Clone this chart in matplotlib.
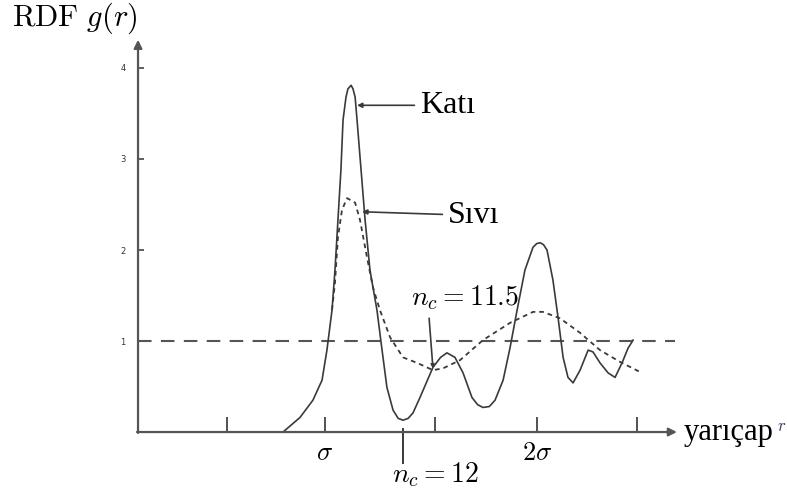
import numpy as np
import matplotlib.pyplot as plt

plt.rcParams['mathtext.fontset'] = 'cm'

# r in units of sigma, g(r) values
kati_r = [0.802, 0.882, 0.943, 0.986, 1.009, 1.033, 1.047, 1.061, 1.075, 1.085, 1.099, 1.108,
          1.123, 1.132, 1.142, 1.151, 1.170, 1.189, 1.212, 1.245, 1.269, 1.292, 1.321, 1.345,
          1.368, 1.392, 1.415, 1.448, 1.509, 1.545, 1.575, 1.613, 1.651, 1.693, 1.720, 1.745,
          1.775, 1.802, 1.840, 1.873, 1.906, 1.943, 1.981, 1.998, 2.014, 2.030, 2.047, 2.075,
          2.099, 2.123, 2.146, 2.170, 2.203, 2.241, 2.264, 2.297, 2.335, 2.368, 2.401, 2.429,
          2.453]
kati_g = [0.00, 0.16, 0.35, 0.57, 0.90, 1.34, 1.78, 2.33, 2.88, 3.43, 3.68, 3.77,
          3.81, 3.77, 3.68, 3.43, 2.88, 2.33, 1.78, 1.34, 0.90, 0.49, 0.24, 0.15,
          0.13, 0.15, 0.21, 0.38, 0.71, 0.82, 0.87, 0.82, 0.65, 0.38, 0.30, 0.27,
          0.28, 0.35, 0.57, 0.93, 1.34, 1.78, 2.03, 2.07, 2.08, 2.06, 2.00, 1.67,
          1.26, 0.82, 0.60, 0.54, 0.68, 0.90, 0.88, 0.76, 0.65, 0.60, 0.76, 0.92,
          1.01]

sivi_r = [1.033, 1.047, 1.061, 1.080, 1.104, 1.142, 1.165, 1.198, 1.226, 1.259, 1.307, 1.368,
          1.434, 1.509, 1.557, 1.637, 1.745, 1.873, 1.981, 2.028, 2.108, 2.203, 2.297, 2.392,
          2.486]
sivi_g = [1.34, 1.64, 2.14, 2.44, 2.57, 2.52, 2.33, 1.92, 1.59, 1.34, 1.04, 0.82,
          0.76, 0.68, 0.70, 0.79, 1.01, 1.20, 1.32, 1.32, 1.25, 1.09, 0.90, 0.77,
          0.66]

xtick_pos = [0.54, 1.0, 1.52, 2.0, 2.47]
xtick_lab = ['', r'$\sigma$', '', r'$2\sigma$', '']
ytick_pos = [1, 2, 3, 4]
ytick_lab = ['1', '2', '3', '4']

axis_x0 = 0.118
line_col = '#3a3a3a'

fig = plt.figure(figsize=(7.87, 4.91), dpi=100)
ax = fig.add_axes([0, 0, 1, 1])
ax.set_xlim(-0.533, 3.179)
ax.set_ylim(-0.648, 4.747)

# axes with arrow heads
ax.spines['left'].set_position(('data', axis_x0))
ax.spines['bottom'].set_position(('data', 0))
for s in ax.spines.values():
    s.set_visible(False)
ax.annotate('', xy=(axis_x0, 4.31), xytext=(axis_x0, -0.01),
            arrowprops=dict(arrowstyle='-|>', color='#555555', lw=1.6, mutation_scale=12,
                            shrinkA=0, shrinkB=0))
ax.annotate('', xy=(2.66, 0), xytext=(axis_x0 - 0.005, 0),
            arrowprops=dict(arrowstyle='-|>', color='#555555', lw=1.6, mutation_scale=12,
                            shrinkA=0, shrinkB=0))

ax.set_xticks(xtick_pos)
ax.set_xticklabels(xtick_lab, fontsize=19)
ax.set_yticks(ytick_pos)
ax.set_yticklabels(ytick_lab, fontsize=6, color='#333333')
ax.tick_params(axis='x', direction='in', length=11, width=1.3, color='#444444', pad=6)
ax.tick_params(axis='y', direction='in', length=4, width=1.2, color='#444444', pad=9)

# g = 1 reference line
ax.plot([axis_x0, 2.65], [1, 1], color='#555555', lw=1.5, dashes=(6.5, 4.5))

ax.plot(kati_r, kati_g, color=line_col, lw=1.2, solid_joinstyle='round')
ax.plot(sivi_r, sivi_g, color=line_col, lw=1.3, dashes=(2.6, 2.2))

# annotations
ax.annotate('Katı', xy=(1.151, 3.59), xytext=(1.448, 3.59), fontsize=23,
            family='Liberation Serif', va='center', ha='left',
            arrowprops=dict(arrowstyle='-|>', color=line_col, lw=1.2, mutation_scale=7,
                            shrinkA=2, shrinkB=0))
ax.annotate('Sıvı', xy=(1.175, 2.42), xytext=(1.58, 2.38), fontsize=23,
            family='Liberation Serif', va='center', ha='left',
            arrowprops=dict(arrowstyle='-|>', color=line_col, lw=1.2, mutation_scale=7,
                            shrinkA=2, shrinkB=0))

ax.text(1.66, 1.48, r'$n_c = 11.5$', fontsize=20, ha='center', va='center')
ax.annotate('', xy=(1.509, 0.70), xytext=(1.491, 1.25),
            arrowprops=dict(arrowstyle='-|>', color=line_col, lw=1.2, mutation_scale=5,
                            shrinkA=0, shrinkB=0))

ax.plot([1.368, 1.368], [0.03, -0.34], color=line_col, lw=1.4)
ax.text(1.519, -0.47, r'$n_c = 12$', fontsize=20, ha='center', va='center')

ax.text(2.69, -0.01, 'yarıçap', fontsize=22, family='Liberation Serif',
        ha='left', va='center')
ax.text(3.132, 0.07, r'$r$', fontsize=12, ha='left', va='center', color='#333366')

ax.text(-0.476, 4.55, r'$\mathrm{RDF}\ g(r)$', fontsize=22, ha='left', va='center')

fig.savefig('out.png', dpi=100, facecolor='white')
